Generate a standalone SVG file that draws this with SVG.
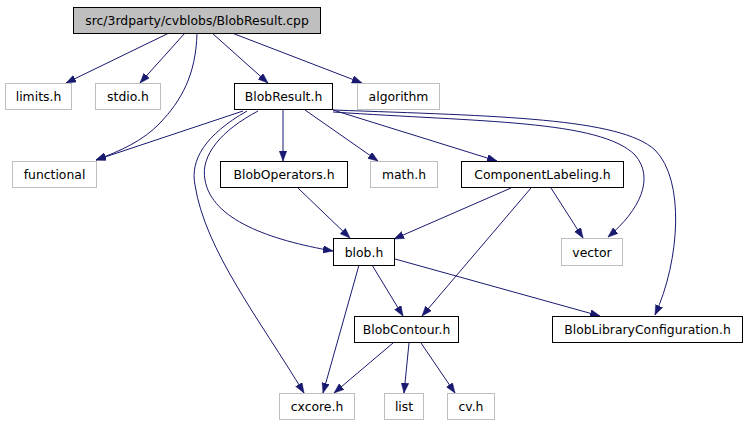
<svg xmlns="http://www.w3.org/2000/svg" width="748" height="427" viewBox="0 0 748 427">
<style>
  .n rect { fill: #ffffff; stroke: #000000; stroke-width: 1; }
  .n.ext rect { stroke: #bfbfbf; }
  .n.root rect { fill: #bfbfbf; }
  .n text { font-family: "DejaVu Sans", "Liberation Sans", sans-serif; font-size: 12.4px; fill: #000000; text-anchor: middle; }
  .e path { fill: none; stroke: #191970; stroke-width: 1; marker-end: url(#ah); }
</style>
<defs>
  <marker id="ah" markerUnits="userSpaceOnUse" markerWidth="11" markerHeight="8" refX="10" refY="3.75" orient="auto">
    <path d="M0,0 L10,3.75 L0,7.5 z" fill="#191970" stroke="#191970" stroke-width="0.5"/>
  </marker>
</defs>
<rect width="748" height="427" fill="#ffffff"/>
<g id="connectors" class="e">
  <path d="M169,33 L66,83"/>
  <path d="M185,33 L140,83"/>
  <path d="M212,33 L268,83"/>
  <path d="M232,33 L362,83"/>
  <path d="M197,33 C196,75 181,101 160,123 C143,141 120,151 96,160"/>
  <path d="M243,111 L96,160"/>
  <path d="M283,110 L283,161"/>
  <path d="M305,110 L378,161"/>
  <path d="M333,110 L497,161"/>
  <path d="M333,112 C480,122 600,120 635,155 C655,178 640,210 608,237"/>
  <path d="M333,110 C500,116 620,118 655,150 C685,180 680,260 655,315"/>
  <path d="M258,111 C222,130 200,155 205,180 C212,220 270,240 333,251"/>
  <path d="M247,111 C205,135 190,160 195,185 C205,250 260,320 304,393"/>
  <path d="M298,188 L350,238"/>
  <path d="M511,188 L394,239"/>
  <path d="M531,188 L422,316"/>
  <path d="M551,188 L583,238"/>
  <path d="M359,265 L323,393"/>
  <path d="M372,265 L403,316"/>
  <path d="M395,259 L600,316"/>
  <path d="M393,343 L334,393"/>
  <path d="M409,343 L404,393"/>
  <path d="M421,343 L455,393"/>
</g>
<g id="root" class="n root"><rect x="73.5" y="7.5" width="247" height="26"/><text x="197" y="25">src/3rdparty/cvblobs/BlobResult.cpp</text></g>
<g id="limits" class="n ext"><rect x="5.5" y="83.5" width="66" height="26"/><text x="38.5" y="101">limits.h</text></g>
<g id="stdio" class="n ext"><rect x="95.5" y="83.5" width="65" height="26"/><text x="128" y="101">stdio.h</text></g>
<g id="blobresult" class="n"><rect x="234.5" y="83.5" width="98" height="26"/><text x="283.5" y="101">BlobResult.h</text></g>
<g id="algorithm" class="n ext"><rect x="357.5" y="83.5" width="82" height="26"/><text x="398.5" y="101">algorithm</text></g>
<g id="functional" class="n ext"><rect x="12.5" y="161.5" width="84" height="26"/><text x="54.5" y="179">functional</text></g>
<g id="bloboperators" class="n"><rect x="220.5" y="161.5" width="127" height="26"/><text x="284" y="179">BlobOperators.h</text></g>
<g id="math" class="n ext"><rect x="370.5" y="161.5" width="67" height="26"/><text x="404" y="179">math.h</text></g>
<g id="componentlabeling" class="n"><rect x="461.5" y="161.5" width="162" height="26"/><text x="542.5" y="179">ComponentLabeling.h</text></g>
<g id="blob" class="n"><rect x="333.5" y="238.5" width="61" height="27"/><text x="364" y="256.5">blob.h</text></g>
<g id="vector" class="n ext"><rect x="561.5" y="238.5" width="61" height="27"/><text x="592" y="256.5">vector</text></g>
<g id="blobcontour" class="n"><rect x="354.5" y="316.5" width="104" height="26"/><text x="406.5" y="334">BlobContour.h</text></g>
<g id="bloblibraryconfiguration" class="n"><rect x="552.5" y="316.5" width="190" height="26"/><text x="647.5" y="334">BlobLibraryConfiguration.h</text></g>
<g id="cxcore" class="n ext"><rect x="279.5" y="393.5" width="75" height="26"/><text x="317" y="411">cxcore.h</text></g>
<g id="list" class="n ext"><rect x="384.5" y="393.5" width="39" height="26"/><text x="404" y="411">list</text></g>
<g id="cv" class="n ext"><rect x="447.5" y="393.5" width="47" height="26"/><text x="471" y="411">cv.h</text></g>
</svg>
